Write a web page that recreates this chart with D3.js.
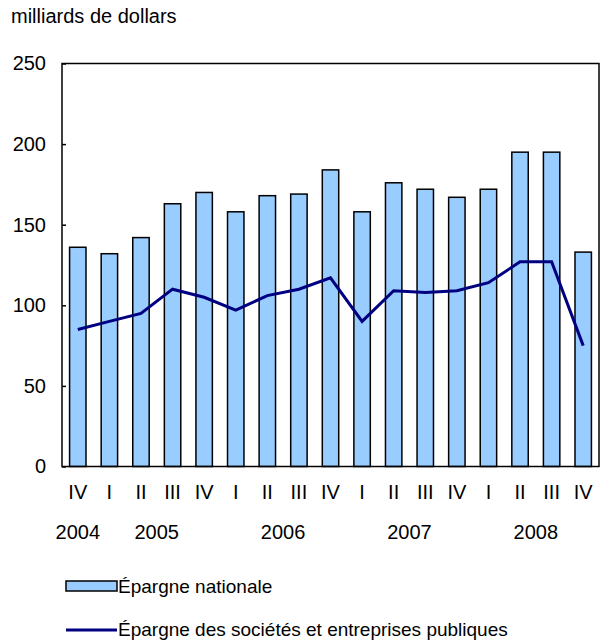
<!DOCTYPE html>
<html>
<head>
<meta charset="utf-8">
<script src="https://cdn.jsdelivr.net/npm/d3@7"></script>
<style>
  body { margin: 0; background: #fff; }
  svg text { font-family: "Liberation Sans", Arial, sans-serif; fill: #000; }
</style>
</head>
<body>
<svg id="chart" width="605" height="642"></svg>
<script>
  // quarters and years
  var quarters = ['IV', 'I', 'II', 'III', 'IV', 'I', 'II', 'III', 'IV', 'I', 'II', 'III', 'IV', 'I', 'II', 'III', 'IV'];
  var years = ['2004', '2005', '2005', '2005', '2005', '2006', '2006', '2006', '2006',
               '2007', '2007', '2007', '2007', '2008', '2008', '2008', '2008'];
  var nationalSavings = [136, 132, 142, 163, 170, 158, 168, 169, 184, 158, 176, 172, 167, 172, 195, 195, 133];
  var corporateSavings = [85, 90, 95, 110, 105, 97, 106, 110, 117, 90, 109, 108, 109, 114, 127, 127, 75];
  var yTicks = [0, 50, 100, 150, 200, 250];

  var svg = d3.select('#chart');
  var plotLeft = 62, plotRight = 599, plotTop = 63.5, plotBottom = 466.5;

  var x = d3.scaleBand().domain(d3.range(quarters.length)).range([plotLeft, plotRight]).paddingInner(0.48).paddingOuter(0.24);
  var y = d3.scaleLinear().domain([0, 250]).range([plotBottom, plotTop]);

  svg.append('text').attr('x', 11).attr('y', 23).style('font-size', '20px').text('milliards de dollars');

  // bars
  svg.append('g').selectAll('rect').data(nationalSavings).enter().append('rect')
    .attr('x', function (d, i) { return x(i); })
    .attr('y', function (d) { return y(d); })
    .attr('width', x.bandwidth())
    .attr('height', function (d) { return y(0) - y(d); })
    .attr('fill', '#99ccff').attr('stroke', '#000').attr('stroke-width', 1.5);

  // plot frame
  svg.append('rect').attr('x', plotLeft).attr('y', plotTop)
    .attr('width', plotRight - plotLeft).attr('height', plotBottom - plotTop)
    .attr('fill', 'none').attr('stroke', '#000').attr('stroke-width', 1.5);

  // y axis
  var yAxis = d3.axisLeft(y).tickValues(yTicks).tickSize(-4).tickPadding(16);
  var gy = svg.append('g').attr('transform', 'translate(' + plotLeft + ',0)').call(yAxis);
  gy.select('.domain').remove();
  gy.selectAll('line').attr('stroke', '#000').attr('stroke-width', 1.5);
  gy.selectAll('text').style('font-size', '20px').style('font-family', '"Liberation Sans", Arial, sans-serif');

  // line
  var line = d3.line()
    .x(function (d, i) { return x(i) + x.bandwidth() / 2; })
    .y(function (d) { return y(d); });
  svg.append('path').datum(corporateSavings).attr('d', line)
    .attr('fill', 'none').attr('stroke', '#000080').attr('stroke-width', 3);

  // quarter labels
  svg.append('g').selectAll('text').data(quarters).enter().append('text')
    .attr('x', function (d, i) { return x(i) + x.bandwidth() / 2; })
    .attr('y', 499).attr('text-anchor', 'middle').style('font-size', '20px')
    .text(function (d) { return d; });

  // year labels centred on their quarters
  var yearGroups = d3.groups(years.map(function (yr, i) { return { yr: yr, i: i }; }), function (d) { return d.yr; });
  svg.append('g').selectAll('text').data(yearGroups).enter().append('text')
    .attr('x', function (g) {
      var idx = g[1].map(function (d) { return d.i; });
      return (x(d3.min(idx)) + x(d3.max(idx)) + x.bandwidth()) / 2;
    })
    .attr('y', 539).attr('text-anchor', 'middle').style('font-size', '20px')
    .text(function (g) { return g[0]; });

  // legend
  var legend = svg.append('g');
  legend.append('rect').attr('x', 66).attr('y', 581).attr('width', 51).attr('height', 10)
    .attr('fill', '#99ccff').attr('stroke', '#000').attr('stroke-width', 1.5);
  legend.append('text').attr('x', 118).attr('y', 593).style('font-size', '19px').text('Épargne nationale');
  legend.append('line').attr('x1', 66).attr('x2', 117).attr('y1', 630).attr('y2', 630)
    .attr('stroke', '#000080').attr('stroke-width', 3);
  legend.append('text').attr('x', 118).attr('y', 636).style('font-size', '19px').text('Épargne des sociétés et entreprises publiques');
</script>
</body>
</html>
